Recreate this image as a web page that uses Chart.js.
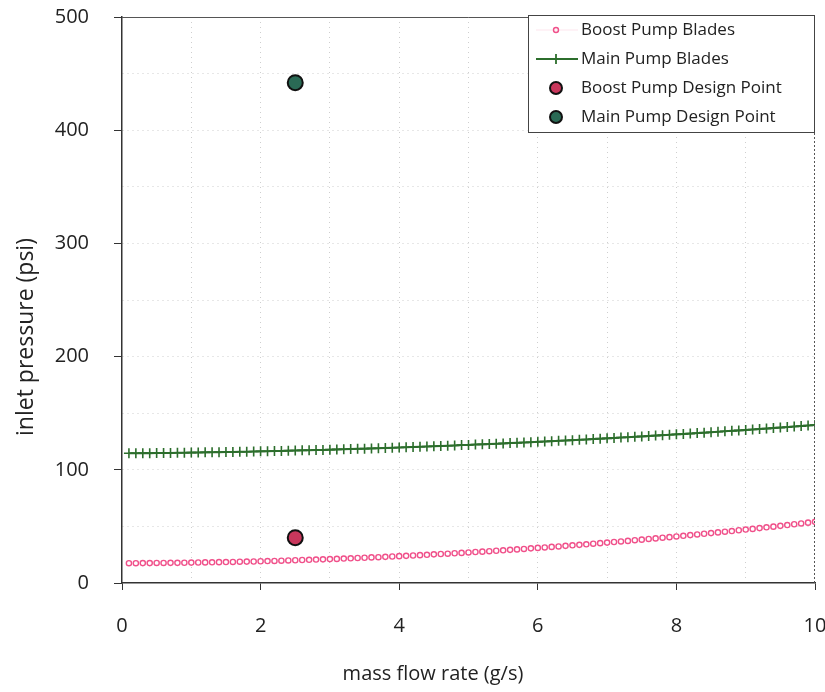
<!DOCTYPE html>
<html>
<head>
<meta charset="utf-8">
<script src="https://cdn.jsdelivr.net/npm/chart.js@4/dist/chart.umd.min.js"></script>
<style>
  html, body { margin: 0; padding: 0; background: #fff; }
  #wrap { width: 825px; height: 692px; position: relative; }
</style>
</head>
<body>
<div id="wrap"><canvas id="c" width="825" height="692"></canvas></div>
<script>
// ---- data ----
const flowRates = [0.1,0.2,0.3,0.4,0.5,0.6,0.7,0.8,0.9,1.0,
  1.1,1.2,1.3,1.4,1.5,1.6,1.7,1.8,1.9,2.0,
  2.1,2.2,2.3,2.4,2.5,2.6,2.7,2.8,2.9,3.0,
  3.1,3.2,3.3,3.4,3.5,3.6,3.7,3.8,3.9,4.0,
  4.1,4.2,4.3,4.4,4.5,4.6,4.7,4.8,4.9,5.0,
  5.1,5.2,5.3,5.4,5.5,5.6,5.7,5.8,5.9,6.0,
  6.1,6.2,6.3,6.4,6.5,6.6,6.7,6.8,6.9,7.0,
  7.1,7.2,7.3,7.4,7.5,7.6,7.7,7.8,7.9,8.0,
  8.1,8.2,8.3,8.4,8.5,8.6,8.7,8.8,8.9,9.0,
  9.1,9.2,9.3,9.4,9.5,9.6,9.7,9.8,9.9,10.0];

const boostPumpBlades = [17.5,17.5,17.6,17.6,17.7,17.7,17.8,17.8,17.9,18.0,
  18.1,18.2,18.3,18.4,18.5,18.6,18.8,18.9,19.0,19.2,
  19.4,19.5,19.7,19.9,20.1,20.3,20.5,20.7,20.9,21.1,
  21.3,21.6,21.8,22.1,22.3,22.6,22.8,23.1,23.4,23.7,
  24.0,24.3,24.6,24.9,25.3,25.6,25.9,26.3,26.6,27.0,
  27.4,27.7,28.1,28.5,28.9,29.3,29.7,30.1,30.6,31.0,
  31.4,31.9,32.3,32.8,33.3,33.7,34.2,34.7,35.2,35.7,
  36.2,36.7,37.2,37.8,38.3,38.9,39.4,40.0,40.5,41.1,
  41.7,42.3,42.9,43.5,44.1,44.7,45.3,45.9,46.6,47.2,
  47.8,48.5,49.2,49.8,50.5,51.2,51.9,52.6,53.3,54.0];

const mainPumpBlades = [114.6,114.6,114.7,114.7,114.8,114.9,114.9,115.0,115.1,115.2,
  115.3,115.4,115.5,115.6,115.7,115.8,115.9,116.0,116.2,116.3,
  116.4,116.6,116.7,116.9,117.0,117.2,117.3,117.5,117.6,117.8,
  118.0,118.1,118.3,118.5,118.7,118.9,119.1,119.3,119.5,119.7,
  119.9,120.1,120.3,120.6,120.8,121.0,121.3,121.5,121.8,122.0,
  122.3,122.5,122.8,123.0,123.3,123.6,123.8,124.1,124.4,124.7,
  125.0,125.3,125.6,125.9,126.2,126.5,126.8,127.1,127.5,127.8,
  128.1,128.5,128.8,129.2,129.5,129.9,130.2,130.6,130.9,131.3,
  131.7,132.0,132.4,132.8,133.2,133.6,134.0,134.4,134.8,135.2,
  135.6,136.0,136.4,136.9,137.3,137.7,138.2,138.6,139.1,139.5];

const designFlow = [2.5];
const boostDesignPressure = [40];
const mainDesignPressure = [442];

const seriesNames = ["Boost Pump Blades", "Main Pump Blades", "Boost Pump Design Point", "Main Pump Design Point"];
const xTickLabels = ["0","2","4","6","8","10"];
const yTickLabels = ["0","100","200","300","400","500"];
const xAxisTitle = "mass flow rate (g/s)";
const yAxisTitle = "inlet pressure (psi)";

// ---- build ----
const toXY = (xs, ys) => xs.map((x, i) => ({ x: x, y: ys[i] }));

const PINK = '#F0508A';
const GREEN = '#2C6E2C';
const BOOST_DOT = '#C9375C';
const MAIN_DOT = '#2A6A55';
const FONT = '"Open Sans", Lato, "Noto Sans", sans-serif';

const frameTitlesLegend = {
  id: 'frameTitlesLegend',
  afterDraw(chart) {
    const ctx = chart.ctx;
    const a = chart.chartArea;
    ctx.save();
    // top and right frame
    ctx.strokeStyle = '#555';
    ctx.lineWidth = 1;
    ctx.beginPath();
    ctx.moveTo(a.left, a.top + 0.5);
    ctx.lineTo(a.right, a.top + 0.5);
    ctx.stroke();
    ctx.setLineDash([2, 2]);
    ctx.beginPath();
    ctx.moveTo(a.right - 0.5, a.top);
    ctx.lineTo(a.right - 0.5, a.bottom);
    ctx.stroke();
    ctx.setLineDash([]);

    // axis titles
    ctx.fillStyle = '#222';
    ctx.textAlign = 'center';
    ctx.textBaseline = 'middle';
    ctx.font = '20px ' + FONT;
    ctx.fillText(xAxisTitle, 433, 674);
    ctx.save();
    ctx.translate(26, 337);
    ctx.rotate(-Math.PI / 2);
    ctx.font = '23px ' + FONT;
    ctx.fillText(yAxisTitle, 0, 0);
    ctx.restore();

    // legend box
    const bx = 528, by = 15, bw = 815 - 528, bh = 118;
    ctx.fillStyle = '#fff';
    ctx.fillRect(bx, by, bw, bh);
    ctx.strokeStyle = '#444';
    ctx.lineWidth = 1;
    ctx.strokeRect(bx + 0.5, by + 0.5, bw - 1, bh - 1);

    const ys = [30, 59, 88, 117];
    const mx = 556;
    ctx.font = '17px ' + FONT;
    ctx.textBaseline = 'middle';
    ctx.textAlign = 'left';
    chart.data.datasets.forEach((ds, i) => {
      const y = ys[i];
      if (i === 0) {
        ctx.strokeStyle = 'rgba(240,80,138,0.15)';
        ctx.lineWidth = 1;
        ctx.beginPath(); ctx.moveTo(536, y); ctx.lineTo(578, y); ctx.stroke();
        ctx.strokeStyle = PINK; ctx.lineWidth = 1.4;
        ctx.beginPath(); ctx.arc(mx, y, 2.5, 0, Math.PI * 2); ctx.stroke();
      } else if (i === 1) {
        ctx.strokeStyle = GREEN; ctx.lineWidth = 1.8;
        ctx.beginPath(); ctx.moveTo(536, y); ctx.lineTo(578, y); ctx.stroke();
        ctx.beginPath(); ctx.moveTo(mx, y - 5); ctx.lineTo(mx, y + 5); ctx.stroke();
      } else {
        ctx.fillStyle = i === 2 ? BOOST_DOT : MAIN_DOT;
        ctx.strokeStyle = '#111'; ctx.lineWidth = 2;
        ctx.beginPath(); ctx.arc(mx, y, 6, 0, Math.PI * 2); ctx.fill(); ctx.stroke();
      }
      ctx.fillStyle = '#222';
      ctx.fillText(ds.label, 581, y);
    });
    ctx.restore();
  }
};

new Chart(document.getElementById('c'), {
  type: 'scatter',
  data: {
    datasets: [
      {
        label: seriesNames[0],
        data: toXY(flowRates, boostPumpBlades),
        showLine: false,
        pointStyle: 'circle',
        pointRadius: 2.6,
        borderColor: PINK,
        backgroundColor: '#fff',
        pointBorderWidth: 1.4,
        order: 3
      },
      {
        label: seriesNames[1],
        data: toXY(flowRates, mainPumpBlades),
        showLine: true,
        borderColor: GREEN,
        borderWidth: 2,
        pointStyle: 'cross',
        pointRadius: 5,
        pointBorderWidth: 1.6,
        backgroundColor: GREEN,
        order: 4
      },
      {
        label: seriesNames[2],
        data: toXY(designFlow, boostDesignPressure),
        pointRadius: 7.5,
        backgroundColor: BOOST_DOT,
        borderColor: '#111',
        pointBorderWidth: 2,
        order: 1
      },
      {
        label: seriesNames[3],
        data: toXY(designFlow, mainDesignPressure),
        pointRadius: 7.5,
        backgroundColor: MAIN_DOT,
        borderColor: '#111',
        pointBorderWidth: 2,
        order: 2
      }
    ]
  },
  options: {
    responsive: false,
    animation: false,
    layout: { padding: { left: 0, right: 10, top: 17, bottom: 0 } },
    plugins: {
      legend: { display: false },
      tooltip: { enabled: false }
    },
    scales: {
      x: {
        type: 'linear',
        min: 0, max: 10,
        afterFit(s) { s.height = 109; s.paddingLeft = 0; s.paddingRight = 0; },
        afterBuildTicks(s) {
          s.ticks = [];
          for (let v = 0; v <= 10; v += 1) s.ticks.push({ value: v });
        },
        grid: {
          color: (c) => (c.tick && c.tick.value > 0 && c.tick.value < 10) ? '#cfcfcf' : 'rgba(0,0,0,0)',
          tickColor: (c) => (c.tick && c.tick.value % 2 === 0) ? '#333' : 'rgba(0,0,0,0)',
          tickLength: 7,
          lineWidth: 1,
          tickBorderDash: [0, 0]
        },
        border: { display: true, color: '#333', width: 1.5, dash: [1, 4] },
        ticks: {
          autoSkip: false,
          maxRotation: 0,
          padding: 24,
          color: '#222',
          font: { family: FONT, size: 20 },
          callback: (v) => xTickLabels.includes(String(v)) ? String(v) : ''
        },
        title: { display: false }
      },
      y: {
        type: 'linear',
        min: 0, max: 500,
        afterFit(s) { s.width = 122; s.paddingTop = 0; s.paddingBottom = 0; },
        afterBuildTicks(s) {
          s.ticks = [];
          for (let v = 0; v <= 500; v += 50) s.ticks.push({ value: v });
        },
        grid: {
          color: (c) => (c.tick && c.tick.value > 0 && c.tick.value < 500) ? '#cfcfcf' : 'rgba(0,0,0,0)',
          tickColor: (c) => (c.tick && c.tick.value % 100 === 0) ? '#333' : 'rgba(0,0,0,0)',
          tickLength: 8,
          lineWidth: 1,
          tickBorderDash: [0, 0]
        },
        border: { display: true, color: '#333', width: 1.5, dash: [1, 4] },
        ticks: {
          autoSkip: false,
          padding: 25,
          color: '#222',
          font: { family: FONT, size: 20 },
          callback: (v) => yTickLabels.includes(String(v)) ? String(v) : ''
        },
        title: { display: false }
      }
    }
  },
  plugins: [frameTitlesLegend]
});
</script>
</body>
</html>
